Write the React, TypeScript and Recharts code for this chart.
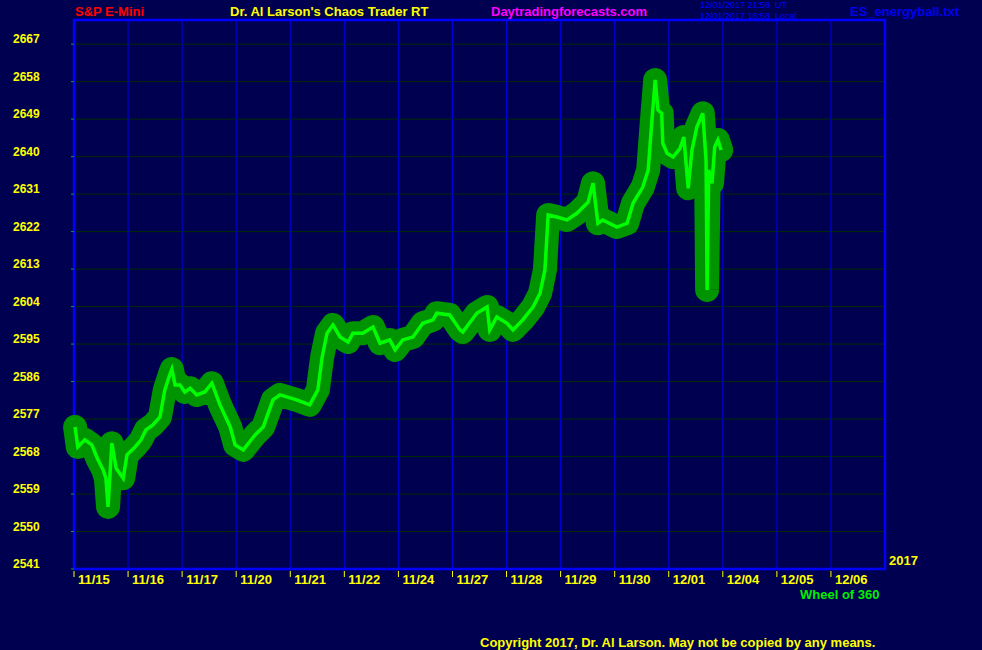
import React from "react";
import {
  CartesianGrid,
  Line,
  LineChart,
  ReferenceArea,
  XAxis,
  YAxis,
} from "recharts";

// session labels along the bottom, one per trading day
const dayLabels = [
  "11/15", "11/16", "11/17", "11/20", "11/21", "11/22", "11/24", "11/27",
  "11/28", "11/29", "11/30", "12/01", "12/04", "12/05", "12/06",
];

const priceTicks = [
  2541, 2550, 2559, 2568, 2577, 2586, 2595, 2604, 2613, 2622, 2631, 2640,
  2649, 2658, 2667,
];

// position in trading days from 11/15 open
const dayPos = [
  0.02, 0.07, 0.2, 0.33, 0.43, 0.54, 0.59, 0.63, 0.7, 0.78, 0.91, 0.98,
  1.13, 1.24, 1.33, 1.46, 1.59, 1.68, 1.78, 1.81, 1.87, 1.96, 2.05, 2.15,
  2.27, 2.42, 2.55, 2.7, 2.89, 2.98, 3.13, 3.35, 3.5, 3.68, 3.81, 4.12,
  4.36, 4.51, 4.59, 4.68, 4.79, 4.92, 5.07, 5.16, 5.34, 5.53, 5.66, 5.84,
  5.94, 6.08, 6.27, 6.45, 6.64, 6.71, 6.95, 7.14, 7.19, 7.45, 7.64, 7.69,
  7.82, 8.01, 8.12, 8.3, 8.49, 8.62, 8.71, 8.77, 8.93, 9.12, 9.3, 9.51,
  9.6, 9.69, 9.78, 10.04, 10.23, 10.34, 10.52, 10.62, 10.69, 10.75, 10.8,
  10.87, 10.89, 10.97, 11.08, 11.21, 11.28, 11.36, 11.43, 11.52, 11.63,
  11.69, 11.71, 11.74, 11.8, 11.85, 11.91, 11.97,
];

// S&P E-mini price
const price = [
  2575.1, 2570.3, 2572.0, 2570.8, 2567.6, 2564.8, 2562.8, 2555.9, 2571.2,
  2565.2, 2562.8, 2568.4, 2570.3, 2572.0, 2574.4, 2575.6, 2577.5, 2584.0,
  2588.0, 2589.0, 2585.2, 2585.2, 2583.5, 2584.4, 2582.8, 2583.5, 2585.6,
  2580.4, 2575.1, 2570.8, 2569.6, 2573.2, 2575.1, 2581.6, 2582.8, 2581.6,
  2580.4, 2584.0, 2591.9, 2597.6, 2599.6, 2596.7, 2595.5, 2597.6, 2597.6,
  2599.1, 2595.2, 2596.0, 2593.6, 2596.0, 2596.7, 2600.0, 2600.8, 2602.4,
  2602.0, 2598.4, 2597.9, 2602.4, 2603.9, 2598.4, 2601.5, 2600.0, 2598.4,
  2600.8, 2603.9, 2607.2, 2612.8, 2626.0, 2625.5, 2624.8, 2626.4, 2629.1,
  2633.6, 2624.0, 2624.8, 2623.1, 2624.0, 2628.8, 2632.7, 2636.8, 2648.8,
  2658.4, 2651.2, 2650.4, 2643.2, 2640.8, 2639.9, 2642.0, 2644.7, 2632.4,
  2641.6, 2647.1, 2650.4, 2639.2, 2608.0, 2636.8, 2633.6, 2642.3, 2644.0,
  2641.6,
];

const data = dayPos.map((d, i) => ({ d, p: price[i] }));

const font = '"Liberation Sans", Arial, sans-serif';
const bg = "#000050";
const yellow = "#ffff00";

function XTick(props: any) {
  const { x, y, payload } = props;
  return (
    <g>
      <line x1={x} x2={x} y1={y - 6} y2={y} stroke={yellow} strokeWidth={1} />
      <text
        x={x + 4}
        y={y + 2}
        fill={yellow}
        fontFamily={font}
        fontWeight="bold"
        fontSize={13}
        dominantBaseline="central"
      >
        {dayLabels[payload.value]}
      </text>
    </g>
  );
}

function YTick(props: any) {
  const { y, payload } = props;
  return (
    <g>
      <line x1={71} x2={74} y1={y} y2={y} stroke="#00b000" strokeWidth={1} />
      <text
        x={13}
        y={y - 5}
        fill={yellow}
        fontFamily={font}
        fontWeight="bold"
        fontSize={12}
        dominantBaseline="central"
      >
        {payload.value}
      </text>
    </g>
  );
}

function Label(p: {
  x: number;
  y: number;
  color: string;
  size?: number;
  bold?: boolean;
  children: React.ReactNode;
}) {
  const size = p.size ?? 13;
  return (
    <div
      style={{
        position: "absolute",
        left: p.x,
        top: p.y - 6,
        lineHeight: "12px",
        fontSize: size,
        fontFamily: font,
        fontWeight: p.bold === false ? "normal" : "bold",
        color: p.color,
        whiteSpace: "nowrap",
      }}
    >
      {p.children}
    </div>
  );
}

export default function App() {
  return (
    <div
      style={{
        position: "absolute",
        left: 0,
        top: 0,
        width: 982,
        height: 650,
        background: bg,
        overflow: "hidden",
      }}
    >
      <LineChart
        width={982}
        height={650}
        data={data}
        margin={{ top: 20, right: 97, bottom: 51, left: 0 }}
      >
        <CartesianGrid vertical={false} stroke="#002c00" strokeWidth={1} />
        <CartesianGrid horizontal={false} stroke="#0000dd" strokeWidth={1} />
        <XAxis
          dataKey="d"
          type="number"
          domain={[0, 15]}
          ticks={dayLabels.map((_, i) => i)}
          height={30}
          tickSize={6}
          tickMargin={2}
          tickLine={false}
          axisLine={false}
          tick={<XTick />}
          interval={0}
        />
        <YAxis
          type="number"
          domain={[2541, 2672.8]}
          ticks={priceTicks}
          allowDataOverflow
          width={74}
          tickLine={false}
          axisLine={false}
          tick={<YTick />}
          interval={0}
        />
        <ReferenceArea
          x1={0}
          x2={15}
          y1={2541}
          y2={2672.8}
          fill="none"
          stroke="#0000ff"
          strokeWidth={2.5}
          ifOverflow="visible"
        />
        <Line
          dataKey="p"
          type="linear"
          stroke="#009400"
          strokeWidth={24}
          strokeLinejoin="round"
          strokeLinecap="round"
          dot={false}
          activeDot={false}
          isAnimationActive={false}
        />
        <Line
          dataKey="p"
          type="linear"
          stroke="#00ff00"
          strokeWidth={3.5}
          dot={false}
          activeDot={false}
          isAnimationActive={false}
        />
      </LineChart>

      <Label x={75} y={12} color="#ff0000">S&amp;P E-Mini</Label>
      <Label x={230} y={12} color={yellow}>
        Dr. Al Larson's Chaos Trader RT
      </Label>
      <Label x={491} y={12} color="#ff00ff">Daytradingforecasts.com</Label>
      <Label x={700} y={5} color="#0000ff" size={9} bold={false}>
        12/01/2017 21:58&nbsp;&nbsp;UT
      </Label>
      <Label x={700} y={16} color="#0000ff" size={9} bold={false}>
        12/01/2017 16:58&nbsp;&nbsp;Local
      </Label>
      <Label x={850} y={12} color="#0000ee" size={13}>
        ES_energyball.txt
      </Label>
      <Label x={889} y={561} color={yellow}>2017</Label>
      <Label x={800} y={595} color="#00ee00">Wheel of 360</Label>
      <Label x={480} y={643} color={yellow}>
        Copyright 2017, Dr. Al Larson. May not be copied by any means.
      </Label>
    </div>
  );
}
